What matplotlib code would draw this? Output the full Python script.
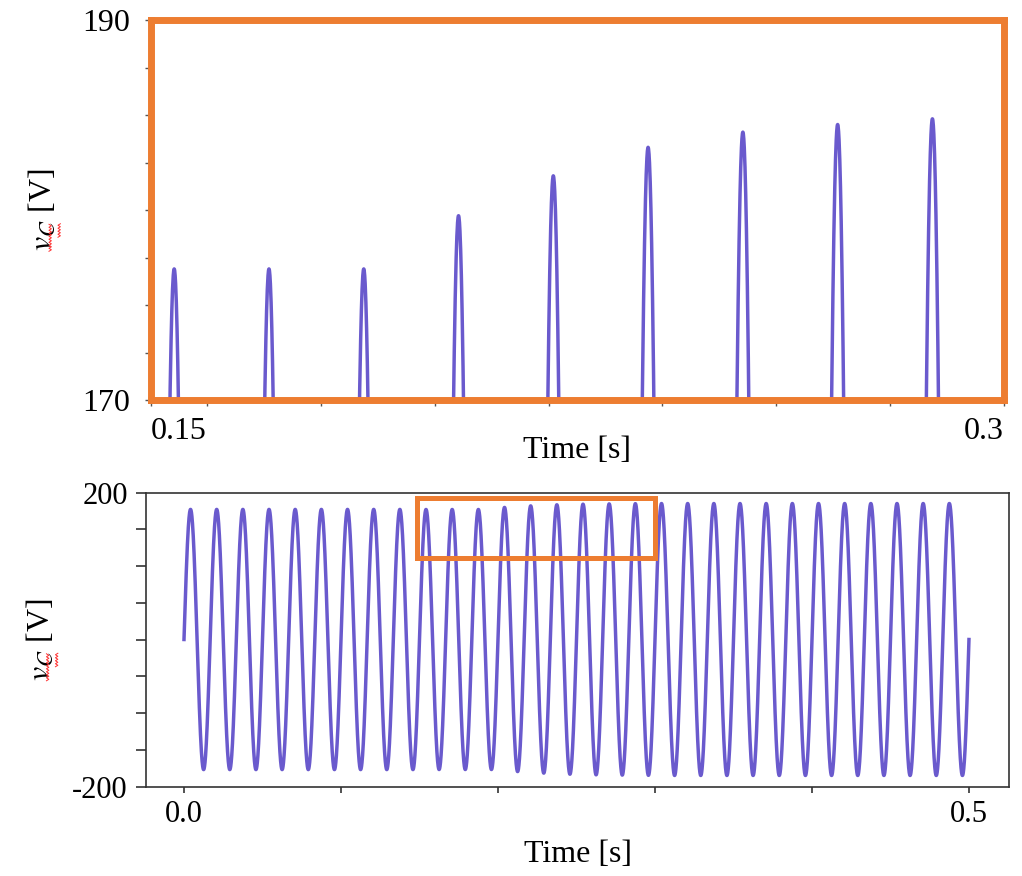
import numpy as np
import matplotlib
matplotlib.use("Agg")
import matplotlib.pyplot as plt
from matplotlib.patches import Rectangle
from matplotlib.lines import Line2D

plt.rcParams['font.family'] = ['Liberation Serif', 'DejaVu Serif']
plt.rcParams['mathtext.fontset'] = 'stix'

# capacitor voltage: 60 Hz, peak value of each cycle
FREQ_HZ = 60
T_END = 0.5
cycle_peak_v = [177, 177, 177, 177, 177, 177, 177, 177, 177,
                176.9, 176.9, 176.9, 179.7, 181.8, 183.3, 184.1, 184.5, 184.8,
                185, 185, 185, 185, 185, 185, 185, 185, 185, 185, 185, 185]

# zoom window (orange box)
zoom_t = [0.15, 0.30]
zoom_v = [170, 190]
box_t = [0.1484, 0.300]
box_v = [110.8, 192.5]

top_xticks = [0.15, 0.16, 0.18, 0.20, 0.22, 0.24, 0.26, 0.28, 0.30]
top_xlabels = ['0.15', '', '', '', '', '', '', '', '0.3']
top_yticks = np.arange(170, 190.1, 2.5)
bot_xticks = [0.0, 0.1, 0.2, 0.3, 0.4, 0.5]
bot_xlabels = ['0.0', '', '', '', '', '0.5']
bot_yticks = np.arange(-200, 201, 50)

LINE_C = '#6a5acd'
ORANGE = '#ed7d31'

t = np.linspace(0, T_END, 12001)
cyc = np.minimum((t * FREQ_HZ).astype(int), len(cycle_peak_v) - 1)
v = np.array(cycle_peak_v)[cyc] * np.sin(2 * np.pi * FREQ_HZ * t)

fig = plt.figure(figsize=(10.22, 8.76), dpi=100)
W, H = 1022, 876

def px_axes(l, r, top, bot):
    return fig.add_axes([l / W, 1 - bot / H, (r - l) / W, (bot - top) / H])

# ---- top: zoomed view
ax1 = px_axes(150.5, 1003.5, 20, 400)
ax1.plot(t, v, color=LINE_C, lw=2.5)
ax1.set_xlim(zoom_t)
ax1.set_ylim(zoom_v)
for s in ax1.spines.values():
    s.set_color(ORANGE)
    s.set_linewidth(5)
ax1.set_xticks(top_xticks)
ax1.set_xticklabels(top_xlabels)
ax1.set_yticks(top_yticks)
ax1.set_yticklabels(['170'] + [''] * 7 + ['190'])
ax1.tick_params(direction='out', length=4, width=1, color='#555555',
                labelsize=23, pad=8)
ax1.tick_params(axis='y', pad=11)
xl = ax1.get_xticklabels()
xl[0].set_ha('left')
xl[-1].set_ha('right')
ax1.set_xlabel('Time [s]', fontsize=23, labelpad=-7)
ax1.set_ylabel(r'$v_C$ [V]', fontsize=23, labelpad=17)

# ---- bottom: full run
ax2 = px_axes(146, 1009, 492.5, 786.5)
ax2.plot(t, v, color=LINE_C, lw=2.5)
ax2.set_xlim(-0.0242, 0.5255)
ax2.set_ylim(-200, 200)
for s in ax2.spines.values():
    s.set_color('#333333')
    s.set_linewidth(1.2)
ax2.set_xticks(bot_xticks)
ax2.set_xticklabels(bot_xlabels)
ax2.set_yticks(bot_yticks)
ax2.set_yticklabels(['-200'] + [''] * 7 + ['200'])
ax2.tick_params(axis='y', direction='out', length=7, width=1.2, color='#333333',
                labelsize=22, pad=6)
ax2.tick_params(axis='x', direction='out', length=4, width=1.2, color='#333333',
                labelsize=22, pad=6)
ax2.set_xlabel('Time [s]', fontsize=23, labelpad=8)
ax2.set_ylabel(r'$v_C$ [V]', fontsize=23, labelpad=12)
ax2.add_patch(Rectangle((box_t[0], box_v[0]), box_t[1] - box_t[0],
                        box_v[1] - box_v[0], fill=False,
                        edgecolor=ORANGE, lw=3.6, zorder=5))

# red spell-check squiggle under "vC" in the y labels
fig.canvas.draw()
rend = fig.canvas.get_renderer()

def squiggle(x, y0, y1):
    ys = np.arange(y0, y1, 1.5)
    xs = x + np.where(np.arange(len(ys)) % 2 == 0, -1.2, 1.2)
    fig.add_artist(Line2D(xs, ys, transform=None, color='#ff3030', lw=0.7))

for ax in (ax1, ax2):
    bb = ax.yaxis.label.get_window_extent(rend)
    h = bb.height
    squiggle(bb.x1 - 8, bb.y0, bb.y0 + 0.33 * h)
    squiggle(bb.x1 + 1, bb.y0 + 0.17 * h, bb.y0 + 0.34 * h)

fig.savefig('out.png', dpi=100)
